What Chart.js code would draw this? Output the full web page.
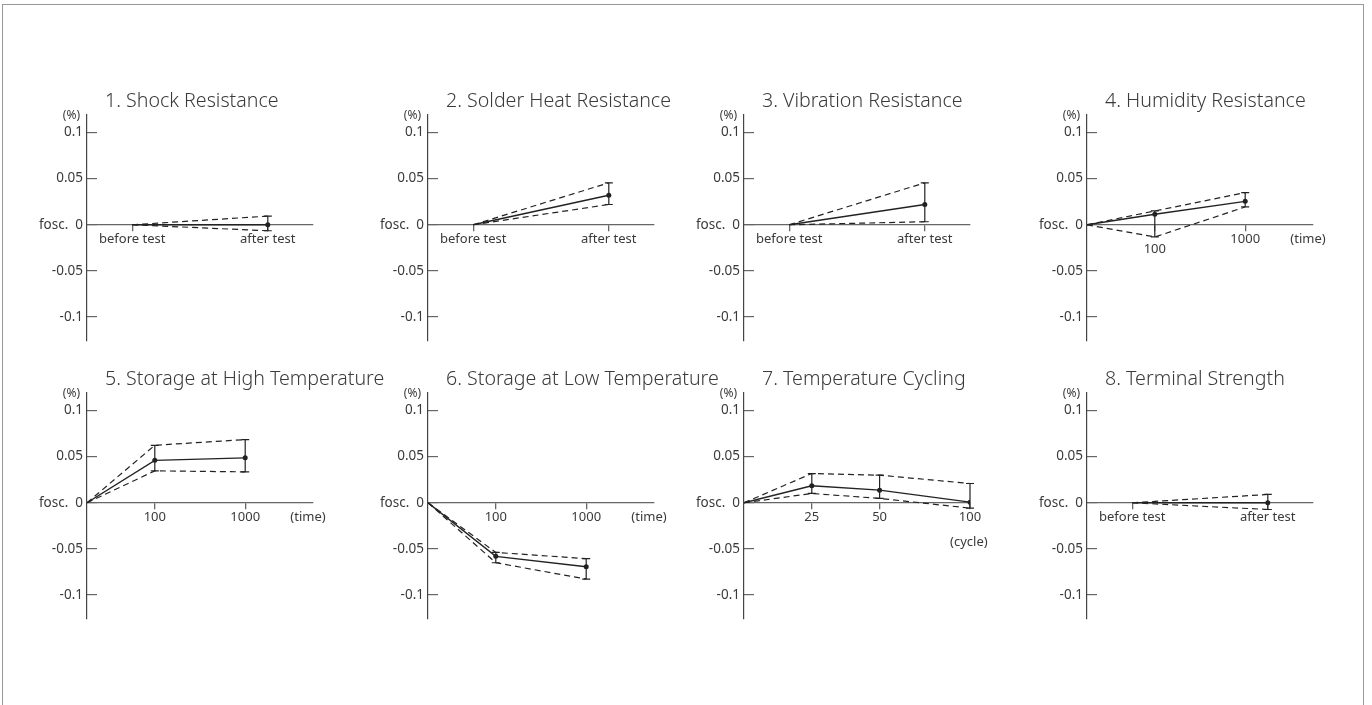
<!DOCTYPE html>
<html>
<head>
<meta charset="utf-8">
<script src="https://cdn.jsdelivr.net/npm/chart.js@4.4.1/dist/chart.umd.min.js"></script>
<style>
  body { margin: 0; background: #fff; }
  #frame { position: absolute; left: 2px; top: 4px; width: 1362px; height: 800px; box-sizing: border-box; border: 1px solid #999; }
  canvas { position: absolute; }
</style>
</head>
<body>
<div id="frame"></div>
<canvas id="c1" width="376" height="266" style="left:17px;top:85px"></canvas>
<canvas id="c2" width="376" height="266" style="left:358px;top:85px"></canvas>
<canvas id="c3" width="376" height="266" style="left:674px;top:85px"></canvas>
<canvas id="c4" width="346" height="266" style="left:1017px;top:85px"></canvas>
<canvas id="c5" width="376" height="266" style="left:17px;top:363px"></canvas>
<canvas id="c6" width="376" height="266" style="left:358px;top:363px"></canvas>
<canvas id="c7" width="376" height="266" style="left:674px;top:363px"></canvas>
<canvas id="c8" width="346" height="266" style="left:1017px;top:363px"></canvas>
<script>
var titles = ['1. Shock Resistance', '2. Solder Heat Resistance', '3. Vibration Resistance', '4. Humidity Resistance',
              '5. Storage at High Temperature', '6. Storage at Low Temperature', '7. Temperature Cycling', '8. Terminal Strength'];

var yTicks = [-0.1, -0.05, 0, 0.05, 0.1];
var yTickLabels = ['-0.1', '-0.05', 'fosc.  0', '0.05', '0.1'];

// x slots on a 0..10 axis
var testX = [2, 8];
var testLabels = ['before test', 'after test'];
var timeX = [0, 3, 7];
var timeLabels = ['', '100', '1000'];
var humidityLabels = ['', ['', '100'], '1000'];
var cycleX = [0, 3, 6, 10];
var cycleLabels = ['', '25', '50', '100'];

var shockMean = [0, 0];
var shockMax = [0, 0.0094];
var shockMin = [0, -0.0065];

var solderMean = [0, 0.032];
var solderMax = [0, 0.0455];
var solderMin = [0, 0.022];

var vibrationMean = [0, 0.022];
var vibrationMax = [0, 0.0455];
var vibrationMin = [0, 0.0033];

var humidityMean = [0, 0.0114, 0.0254];
var humidityMax = [0, 0.015, 0.0349];
var humidityMin = [0, -0.0132, 0.0193];

var highTempMean = [0, 0.046, 0.0487];
var highTempMax = [0, 0.0623, 0.0685];
var highTempMin = [0, 0.0346, 0.0335];

var lowTempMean = [0, -0.0581, -0.0693];
var lowTempMax = [0, -0.0538, -0.0606];
var lowTempMin = [0, -0.065, -0.0827];

var cyclingMean = [0, 0.0184, 0.0137, 0.0007];
var cyclingMax = [0, 0.0317, 0.0299, 0.0209];
var cyclingMin = [0, 0.0101, 0.0047, -0.0058];

var terminalMean = [0, 0];
var terminalMax = [0, 0.009];
var terminalMin = [0, -0.0073];

Chart.defaults.font.family = "'Noto Sans', 'Open Sans', sans-serif";
Chart.defaults.color = '#3a3a3a';

var panels = [
    { id: 'c1', title: titles[0], x: testX, labels: testLabels, mean: shockMean, max: shockMax, min: shockMin },
    { id: 'c2', title: titles[1], x: testX, labels: testLabels, mean: solderMean, max: solderMax, min: solderMin },
    { id: 'c3', title: titles[2], x: testX, labels: testLabels, mean: vibrationMean, max: vibrationMax, min: vibrationMin },
    { id: 'c4', title: titles[3], x: timeX, labels: humidityLabels, mean: humidityMean, max: humidityMax, min: humidityMin, unit: '(time)', unitX: 9.78, unitDy: 14.6 },
    { id: 'c5', title: titles[4], x: timeX, labels: timeLabels, mean: highTempMean, max: highTempMax, min: highTempMin, unit: '(time)', unitX: 9.78, unitDy: 14.6 },
    { id: 'c6', title: titles[5], x: timeX, labels: timeLabels, mean: lowTempMean, max: lowTempMax, min: lowTempMin, unit: '(time)', unitX: 9.78, unitDy: 14.6 },
    { id: 'c7', title: titles[6], x: cycleX, labels: cycleLabels, mean: cyclingMean, max: cyclingMax, min: cyclingMin, unit: '(cycle)', unitX: 9.95, unitDy: 39.5 },
    { id: 'c8', title: titles[7], x: testX, labels: testLabels, mean: terminalMean, max: terminalMax, min: terminalMin }
];

function makeChart(p) {
    var canvas = document.getElementById(p.id);
    var ctx = canvas.getContext('2d');
    var rightPad = canvas.width - 70 - 226;
    var pts = function(arr) {
        return arr.map(function(v, i) { return { x: p.x[i], y: v }; });
    };
    // only slots with a label get an x tick
    var tickX = [], tickLabels = [];
    p.x.forEach(function(v, i) {
        if (p.labels[i] !== '') { tickX.push(v); tickLabels.push(p.labels[i]); }
    });

    var errorBars = {
        id: 'errorBars',
        afterDatasetsDraw: function(chart) {
            var xs = chart.scales.x, ys = chart.scales.y, c = chart.ctx;
            c.save();
            c.strokeStyle = '#222';
            c.lineWidth = 1.2;
            for (var i = 1; i < p.x.length; i++) {
                var px = xs.getPixelForValue(p.x[i]);
                var top = ys.getPixelForValue(p.max[i]);
                var bot = ys.getPixelForValue(p.min[i]);
                c.beginPath();
                c.moveTo(px, top); c.lineTo(px, bot);
                c.moveTo(px - 4, top); c.lineTo(px + 4, top);
                c.moveTo(px - 4, bot); c.lineTo(px + 4, bot);
                c.stroke();
            }
            c.restore();
        }
    };

    var panelText = {
        id: 'panelText',
        afterDraw: function(chart) {
            var a = chart.chartArea, c = chart.ctx;
            c.save();
            c.fillStyle = '#3a3a3a';
            c.font = "300 19.6px 'Noto Sans', 'Open Sans', sans-serif";
            c.textAlign = 'left';
            c.textBaseline = 'alphabetic';
            c.fillText(p.title, a.left + 18, a.top - 8);
            c.font = "12px 'Noto Sans', 'Open Sans', sans-serif";
            c.textAlign = 'right';
            c.textBaseline = 'middle';
            c.fillText('(%)', a.left - 7, a.top + 1);
            if (p.unit) {
                c.font = "13px 'Noto Sans', 'Open Sans', sans-serif";
                c.textAlign = 'center';
                c.fillText(p.unit, chart.scales.x.getPixelForValue(p.unitX), chart.scales.y.getPixelForValue(0) + p.unitDy);
            }
            c.restore();
        }
    };

    return new Chart(ctx, {
        type: 'line',
        data: {
            datasets: [{
                data: pts(p.mean),
                borderColor: '#222',
                borderWidth: 1.4,
                pointRadius: function(c) { return c.dataIndex === 0 ? 0 : 2.5; },
                pointBackgroundColor: '#222',
                pointBorderWidth: 0
            }, {
                data: pts(p.max),
                borderColor: '#222',
                borderWidth: 1.2,
                borderDash: [6, 4],
                pointRadius: 0
            }, {
                data: pts(p.min),
                borderColor: '#222',
                borderWidth: 1.2,
                borderDash: [6, 4],
                pointRadius: 0
            }]
        },
        options: {
            responsive: false,
            animation: false,
            layout: { padding: { top: 30, right: rightPad, bottom: 10, left: 0 } },
            plugins: {
                legend: { display: false },
                tooltip: { enabled: false }
            },
            scales: {
                x: {
                    type: 'linear',
                    min: 0,
                    max: 10,
                    position: { y: 0 },
                    afterFit: function(s) { s.height = 0; },
                    afterBuildTicks: function(s) {
                        s.ticks = tickX.map(function(v) { return { value: v }; });
                    },
                    ticks: {
                        autoSkip: false,
                        maxRotation: 0,
                        padding: 3,
                        font: { size: 13, lineHeight: 0.82 },
                        callback: function(v, i) { return tickLabels[i]; }
                    },
                    grid: { drawOnChartArea: false, tickLength: 6, color: '#666', lineWidth: 1.3 },
                    border: { color: '#666', width: 1.3 }
                },
                y: {
                    min: -0.126,
                    max: 0.119,
                    afterFit: function(s) {
                        s.width = 70;
                        s.paddingTop = 0;
                        s.paddingBottom = 0;
                    },
                    afterBuildTicks: function(s) {
                        s.ticks = yTicks.map(function(v) { return { value: v }; });
                    },
                    ticks: {
                        padding: 14,
                        font: { size: 13.5 },
                        callback: function(v, i) { return yTickLabels[i]; }
                    },
                    grid: { drawOnChartArea: false, tickLength: -10, color: '#666', lineWidth: 1.2 },
                    border: { color: '#444', width: 1.2 }
                }
            }
        },
        plugins: [errorBars, panelText]
    });
}

panels.forEach(makeChart);
</script>
</body>
</html>
